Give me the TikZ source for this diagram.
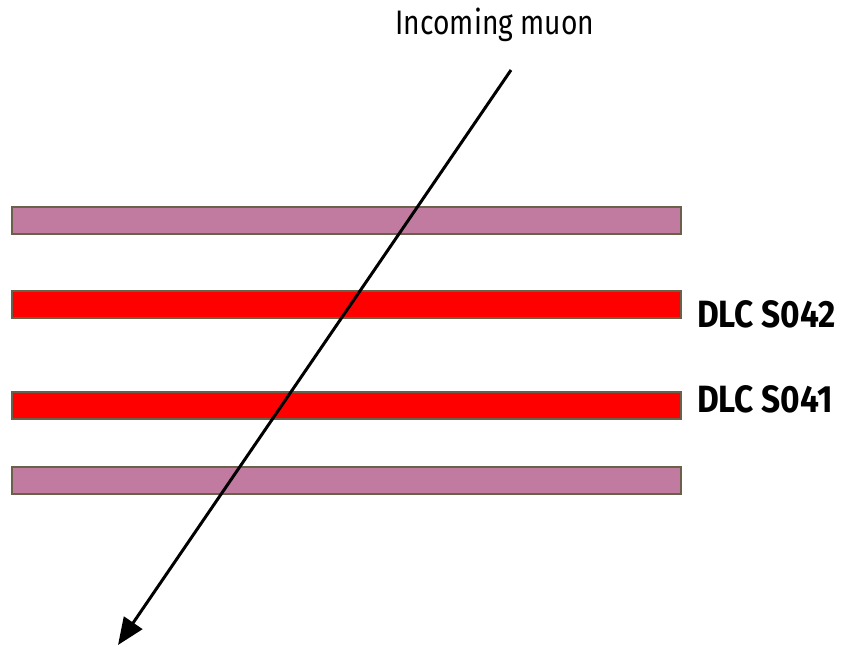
\documentclass[tikz,border=0pt]{standalone}
\usepackage{fontspec}
\setmainfont{Fira Sans}[FakeStretch=0.83, BoldFeatures={FakeStretch=0.88}]
\usetikzlibrary{arrows.meta}
\definecolor{plate}{HTML}{C27BA0}
\definecolor{dlcred}{HTML}{FF0000}
\definecolor{rim}{HTML}{6B614B}
\tikzset{
  layer/.style={rectangle, draw=rim, line width=2pt, minimum width=669pt,
    minimum height=27pt, inner sep=0pt, outer sep=0pt},
  plainlayer/.style={layer, fill=plate},
  dlclayer/.style={layer, fill=dlcred},
  dlclabel/.style={anchor=base west, inner sep=0pt, font=\fontsize{38}{44}\selectfont\bfseries},
  track/.style={line width=3pt, -{Triangle[length=27pt,width=22pt]}}
}
\begin{document}
\begin{tikzpicture}[x=1pt,y=-1pt]
  \useasboundingbox (0,0) rectangle (845,646);
  % stack of layers, top to bottom
  \node[plainlayer] (top)  at (346.5,220) {};
  \node[dlclayer]   (s042) at (346.5,304) {};
  \node[dlclayer]   (s041) at (346.5,405) {};
  \node[plainlayer] (bot)  at (346.5,480) {};
  % labels of the two DLC layers
  \node[dlclabel] (l042) at (697,327) {DLC S042};
  \node[dlclabel] (l041) at (697,412) {DLC S041};
  % muon track
  \node[anchor=base, inner sep=0pt, font=\fontsize{34}{40}\selectfont] (muon) at (495,34) {Incoming muon};
  \coordinate (entry) at (511,70);
  \coordinate (exit) at (118,645);
  \draw[track] (entry) -- (exit);
\end{tikzpicture}
\end{document}
